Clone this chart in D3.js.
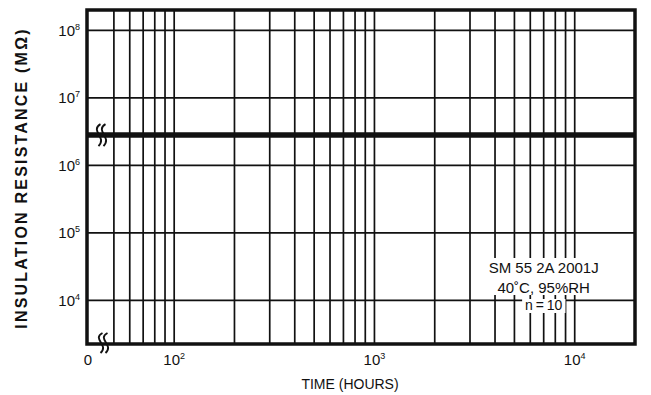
<!DOCTYPE html>
<html>
<head>
<meta charset="utf-8">
<script src="https://cdn.jsdelivr.net/npm/d3@7"></script>
<style>
  body { margin: 0; background: #fff; }
  text { font-family: "Liberation Sans", Arial, Helvetica, sans-serif; fill: #111; }
</style>
</head>
<body>
<div id="chart"></div>
<script>
// data
const hours = [36.7, 20000];
const resistance = [2.8e6, 2.8e6];
const yTicks = [1e4, 1e5, 1e6, 1e7, 1e8];
const yTickExp = ["4", "5", "6", "7", "8"];
const xGrid = [50, 60, 70, 80, 90, 100, 200, 300, 400, 500, 600, 700, 800, 900,
               1000, 2000, 3000, 4000, 5000, 6000, 7000, 8000, 9000, 10000];
const xTicks = [100, 1000, 10000];
const xTickExp = ["2", "3", "4"];
const notes = ["SM 55 2A 2001J", "40˚C, 95%RH", "n\u2009=\u200910"];

const width = 651, height = 395;
const margin = {top: 10, right: 16, bottom: 51, left: 87};

const svg = d3.select("#chart")
    .append("svg")
    .attr("width", width)
    .attr("height", height);

const x = d3.scaleLog()
    .domain([hours[0], 20000])
    .range([margin.left, width - margin.right]);

const y = d3.scaleLog()
    .domain([2250, 2e8])
    .range([height - margin.bottom, margin.top]);

// grid
svg.append("g")
    .selectAll("line")
    .data(xGrid)
    .join("line")
    .attr("x1", d => x(d)).attr("x2", d => x(d))
    .attr("y1", margin.top).attr("y2", height - margin.bottom)
    .attr("stroke", "#111")
    .attr("stroke-width", 1.7);

svg.append("g")
    .selectAll("line")
    .data(yTicks)
    .join("line")
    .attr("x1", margin.left).attr("x2", width - margin.right)
    .attr("y1", d => y(d)).attr("y2", d => y(d))
    .attr("stroke", "#111")
    .attr("stroke-width", 1.7);

// note block with white background
const noteX = x(7000);
const noteY = [273, 293, 310];
const noteSize = [15, 15, 14];
const noteG = svg.append("g");
const boxes = notes.map((t, i) => {
    const txt = noteG.append("text")
        .attr("x", noteX)
        .attr("y", noteY[i])
        .attr("text-anchor", "middle")
        .attr("font-size", noteSize[i])
        .text(t);
    return txt.node().getBBox();
});
// first two lines share one box, last line has its own
const top2 = {
    x0: Math.min(boxes[0].x, boxes[1].x) - 3,
    x1: Math.max(boxes[0].x + boxes[0].width, boxes[1].x + boxes[1].width) + 3,
    y0: boxes[0].y - 1,
    y1: boxes[1].y + boxes[1].height - 1
};
noteG.insert("rect", "text")
    .attr("x", top2.x0).attr("y", top2.y0)
    .attr("width", top2.x1 - top2.x0).attr("height", top2.y1 - top2.y0)
    .attr("fill", "#fff");
noteG.insert("rect", "text")
    .attr("x", boxes[2].x - 3).attr("y", boxes[2].y + 2)
    .attr("width", boxes[2].width + 6).attr("height", boxes[2].height - 2)
    .attr("fill", "#fff");

// the measured series
const line = d3.line()
    .x((d, i) => x(hours[i]))
    .y(d => y(d));

svg.append("path")
    .datum(resistance)
    .attr("d", line)
    .attr("fill", "none")
    .attr("stroke", "#111")
    .attr("stroke-width", 5.5);

// frame
svg.append("rect")
    .attr("x", margin.left)
    .attr("y", margin.top)
    .attr("width", width - margin.left - margin.right)
    .attr("height", height - margin.top - margin.bottom)
    .attr("fill", "none")
    .attr("stroke", "#111")
    .attr("stroke-width", 3.5);

// axis breaks
function breakMark(cx, cy, h) {
    const g = svg.append("g");
    [-2.5, 2.5].forEach(dx => {
        const x0 = cx + dx;
        g.append("path")
            .attr("d", `M${x0 + 2},${cy - h} C${x0 - 9},${cy - h * 0.4} ${x0 + 9},${cy + h * 0.2} ${x0},${cy + h}`)
            .attr("fill", "none")
            .attr("stroke", "#111")
            .attr("stroke-width", 1.9);
    });
}
breakMark(101, y(resistance[0]), 11);
breakMark(103, height - margin.bottom - 1, 10);

// y tick labels
const yl = svg.append("g")
    .selectAll("text")
    .data(yTicks)
    .join("text")
    .attr("x", margin.left - 7)
    .attr("y", d => y(d) + 5.5)
    .attr("text-anchor", "end")
    .attr("font-size", 15);
yl.append("tspan").text("10");
yl.append("tspan")
    .attr("font-size", 9)
    .attr("dy", -6)
    .text((d, i) => yTickExp[i]);

// x tick labels
const xl = svg.append("g")
    .selectAll("text")
    .data(xTicks)
    .join("text")
    .attr("x", d => x(d))
    .attr("y", height - margin.bottom + 21)
    .attr("text-anchor", "middle")
    .attr("font-size", 15);
xl.append("tspan").text("10");
xl.append("tspan")
    .attr("font-size", 9)
    .attr("dy", -6)
    .text((d, i) => xTickExp[i]);

svg.append("text")
    .attr("x", margin.left + 1)
    .attr("y", height - margin.bottom + 21)
    .attr("text-anchor", "middle")
    .attr("font-size", 15)
    .text("0");

// axis titles
svg.append("text")
    .attr("x", 350)
    .attr("y", height - 6)
    .attr("text-anchor", "middle")
    .attr("font-size", 14)
    .text("TIME (HOURS)");

svg.append("text")
    .attr("transform", "translate(27,178) rotate(-90)")
    .attr("text-anchor", "middle")
    .attr("font-size", 16)
    .attr("font-weight", "bold")
    .attr("letter-spacing", 2.2)
    .text("INSULATION RESISTANCE (MΩ)");
</script>
</body>
</html>
